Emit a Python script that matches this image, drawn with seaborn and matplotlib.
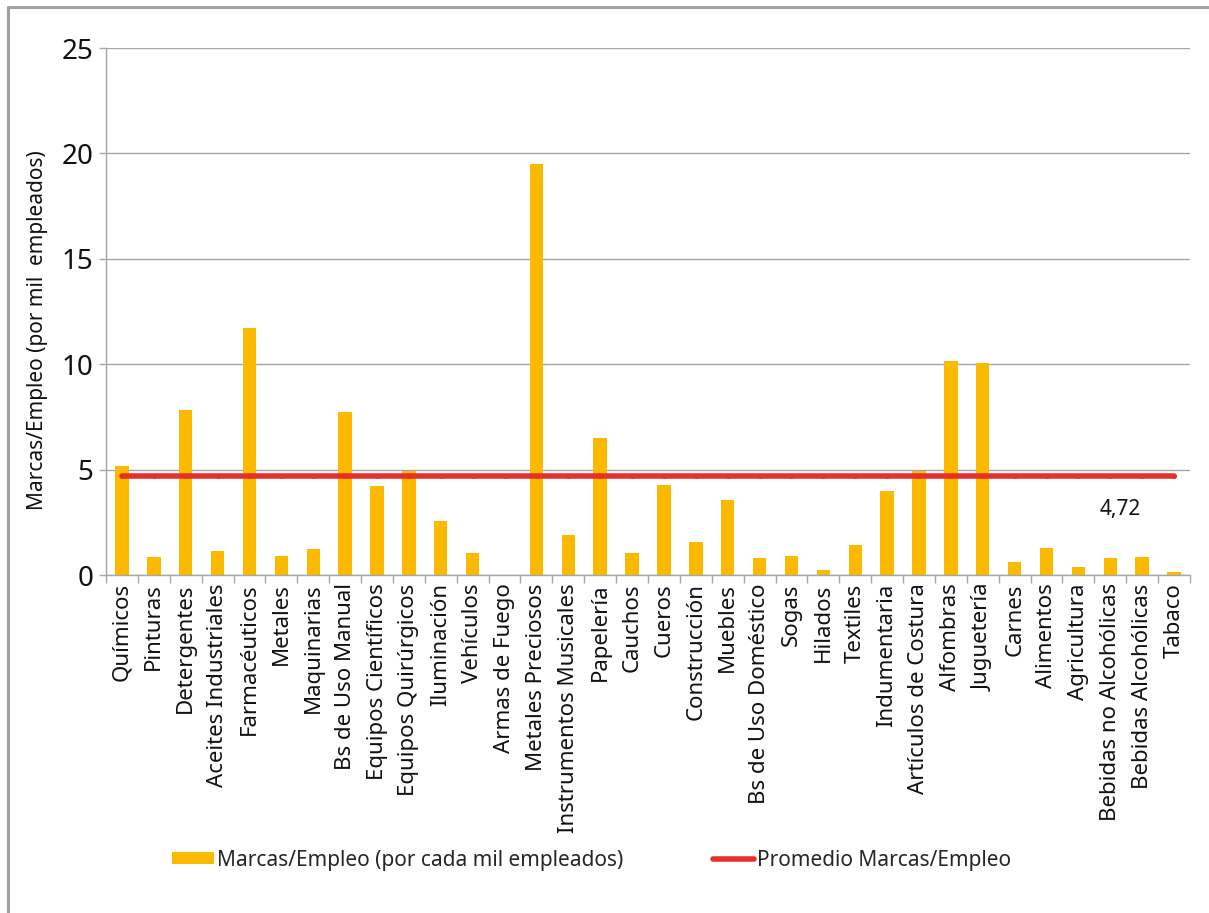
import matplotlib
matplotlib.use("Agg")
import matplotlib.pyplot as plt
import seaborn as sns
import pandas as pd
import numpy as np
from matplotlib.lines import Line2D
from matplotlib.patches import Patch

sectores = [
    "Químicos", "Pinturas", "Detergentes", "Aceites Industriales", "Farmacéuticos",
    "Metales", "Maquinarias", "Bs de Uso Manual", "Equipos Científicos",
    "Equipos Quirúrgicos", "Iluminación", "Vehículos", "Armas de Fuego",
    "Metales Preciosos", "Instrumentos Musicales", "Papelería", "Cauchos", "Cueros",
    "Construcción", "Muebles", "Bs de Uso Doméstico", "Sogas", "Hilados", "Textiles",
    "Indumentaria", "Artículos de Costura", "Alfombras", "Juguetería", "Carnes",
    "Alimentos", "Agricultura", "Bebidas no Alcohólicas", "Bebidas Alcohólicas", "Tabaco",
]
marcas_empleo = [
    5.19, 0.84, 7.85, 1.16, 11.7, 0.92, 1.21, 7.75, 4.20, 4.95, 2.58, 1.06, 0.0,
    19.5, 1.92, 6.49, 1.02, 4.25, 1.58, 3.58, 0.82, 0.92, 0.25, 1.44, 4.00, 4.92,
    10.13, 10.08, 0.63, 1.30, 0.40, 0.82, 0.87, 0.16,
]
promedio = 4.72
etiqueta_promedio = "4,72"
yticks = [0, 5, 10, 15, 20, 25]

sns.set_theme(style="white")
plt.rcParams["font.family"] = ["Noto Sans", "DejaVu Sans"]

df = pd.DataFrame({"Sector": sectores, "Valor": marcas_empleo,
                   "Promedio": [promedio] * len(sectores)})

W, H = 1209, 913
fig = plt.figure(figsize=(W / 100, H / 100), dpi=100)
ax = fig.add_axes([106 / W, 1 - 575 / H, (1190 - 106) / W, (575 - 48) / H])

amarillo = "#FBBA00"
rojo = "#E8302A"
gris = "#A6A6A6"
texto = "#111111"

sns.barplot(data=df, x="Sector", y="Valor", color=amarillo, width=0.42,
            saturation=1, linewidth=0, ax=ax, zorder=2)
sns.lineplot(data=df, x="Sector", y="Promedio", color=rojo, linewidth=4,
             marker="o", markersize=3.5, markeredgewidth=0, ax=ax, zorder=3,
             sort=False)

n = len(sectores)
ax.set_xlim(-0.5, n - 0.5)
ax.set_ylim(0, 25)
ax.set_yticks(yticks)
ax.set_yticklabels([str(v) for v in yticks], fontsize=20, color=texto)
ax.yaxis.grid(True, color=gris, linewidth=1.0, zorder=0)
ax.set_axisbelow(True)

ax.set_xticks(range(n))
ax.set_xticklabels(sectores, rotation=90, fontsize=16, color=texto)
ax.tick_params(axis="x", length=0, pad=6)
ax.set_xticks(np.arange(-0.5, n, 1.0), minor=True)
ax.tick_params(axis="x", which="minor", length=6, color=gris, width=1, bottom=True)
ax.tick_params(axis="y", length=5, color=gris, width=1, left=True, pad=4)

for side in ["top", "right"]:
    ax.spines[side].set_visible(False)
for side in ["left", "bottom"]:
    ax.spines[side].set_color(gris)
    ax.spines[side].set_linewidth(1.0)

ax.set_xlabel("")
ax.set_ylabel("Marcas/Empleo (por mil  empleados)", fontsize=15, color=texto)
ax.yaxis.set_label_coords(-(106 - 48) / (1190 - 106), (575 - 330) / (575 - 48))

ax.text(31.3, 3.1, etiqueta_promedio, fontsize=15, color=texto,
        ha="center", va="center")

handles = [Patch(facecolor=amarillo, edgecolor="none"),
           Line2D([0], [0], color=rojo, linewidth=4)]
fig.legend(handles, ["Marcas/Empleo (por cada mil empleados)",
                     "Promedio Marcas/Empleo"],
           loc="center left", bbox_to_anchor=(172 / W, 1 - 860 / H), ncol=2,
           frameon=False, fontsize=15, handlelength=2.0, handleheight=0.45,
           handletextpad=0.15, columnspacing=4.3, borderaxespad=0, borderpad=0)

# top and left frame lines of the chart area
fig.add_artist(Line2D([8 / W, 1.0], [1 - 7 / H, 1 - 7 / H], transform=fig.transFigure,
                      color="#A0A0A0", linewidth=2.2))
fig.add_artist(Line2D([8 / W, 8 / W], [0.0, 1 - 7 / H], transform=fig.transFigure,
                      color="#A0A0A0", linewidth=2.2))

fig.savefig("out.png", dpi=100, facecolor="white")
